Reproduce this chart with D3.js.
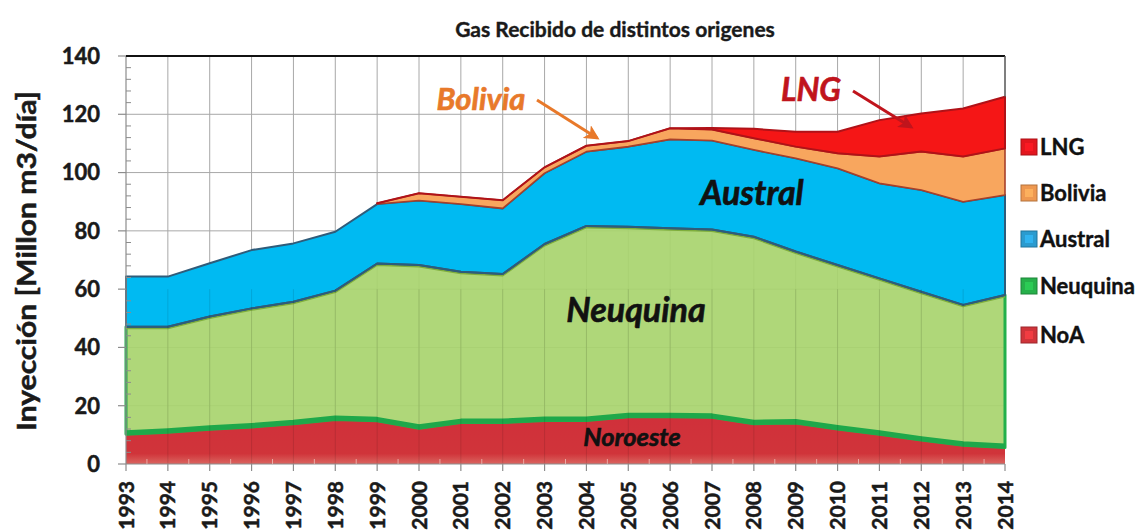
<!DOCTYPE html>
<html>
<head>
<meta charset="utf-8">
<script src="https://cdn.jsdelivr.net/npm/d3@7"></script>
<style>
  html, body { margin: 0; padding: 0; background: #fff; }
  svg { display: block; }
  text { font-family: Lato, "Open Sans", sans-serif; }
</style>
</head>
<body>
<svg id="chart" width="1147" height="532"></svg>
<script>
// ---- data ----
const years = [1993,1994,1995,1996,1997,1998,1999,2000,2001,2002,2003,2004,2005,2006,2007,2008,2009,2010,2011,2012,2013,2014];
const noa      = [10.2,10.9,11.9,12.7,13.8,15.3,14.8,12.3,14.2,14.2,14.9,14.9,16.2,16.2,16.0,13.8,14.1,12.0,10.2,8.2,6.4,5.7];
const neuquina = [36.9,36.2,38.7,40.7,41.9,44.2,54.0,56.0,51.8,51.0,60.6,66.8,65.2,64.7,64.5,64.2,58.8,56.3,53.5,50.9,48.2,52.3];
const austral  = [17.2,17.2,18.3,20.0,20.0,20.2,20.4,22.1,23.2,22.5,24.3,25.5,27.5,30.5,30.5,29.8,32.0,33.2,32.6,34.9,35.4,34.3];
const bolivia  = [null,null,null,null,null,null,0.3,2.5,2.5,2.8,2.0,2.0,1.9,3.8,3.8,4.0,4.0,5.1,9.2,13.2,15.5,16.0];
const lng      = [null,null,null,null,null,null,0,0,0,0,0,0,0,0,0.5,3.2,5.1,7.4,12.5,13.1,16.5,17.7];
const yTicks   = [0,20,40,60,80,100,120,140];
const seriesKeys   = ["NoA","Neuquina","Austral","Bolivia","LNG"];
const legendOrder  = ["LNG","Bolivia","Austral","Neuquina","NoA"];
const title = "Gas Recibido de distintos origenes";
const yTitle = "Inyección [Millon m3/día]";

// ---- layout ----
const W = 1147, H = 532;
const margin = {left: 126, right: 142, top: 56, bottom: 68};
const iw = W - margin.left - margin.right;
const ih = H - margin.top - margin.bottom;

const svg = d3.select("#chart");
const defs = svg.append("defs");

const x = d3.scaleLinear().domain([years[0], years[years.length-1]]).range([margin.left, margin.left + iw]);
const y = d3.scaleLinear().domain([0, 140]).range([margin.top + ih, margin.top]);

const style = {
  NoA:      {fill: "url(#gNoa)", stroke: "none", sw: 0, op: 1},
  Neuquina: {fill: "#a8d46e", stroke: "#22b04b", sw: 3, op: 0.92},
  Austral:  {fill: "#00baf2", stroke: "#2f5c7a", sw: 2, op: 1},
  Bolivia:  {fill: "#f8a65e", stroke: "#a8402a", sw: 1.6, op: 1},
  LNG:      {fill: "#f51616", stroke: "#b01218", sw: 2, op: 1}
};
const legendColor = {LNG: "#e3161e", Bolivia: "#ee9850", Austral: "#2b9bcf", Neuquina: "#26b04a", NoA: "#d0343a"};

const gNoa = defs.append("linearGradient").attr("id","gNoa").attr("x1",0).attr("y1",0).attr("x2",0).attr("y2",1);
gNoa.append("stop").attr("offset","0%").attr("stop-color","#d0303a");
gNoa.append("stop").attr("offset","78%").attr("stop-color","#d0343a");
gNoa.append("stop").attr("offset","100%").attr("stop-color","#da6560");

// ---- table ----
const table = years.map((yr, i) => ({
  year: yr, NoA: noa[i], Neuquina: neuquina[i], Austral: austral[i], Bolivia: bolivia[i], LNG: lng[i]
}));
const stack = d3.stack().keys(seriesKeys).value((d, k) => d[k] == null ? 0 : d[k]);
const stacked = stack(table);

// ---- grid ----
const grid = svg.append("g");
grid.selectAll("line.h").data(yTicks.filter(t => t > 0 && t < 140)).join("line")
  .attr("x1", margin.left).attr("x2", margin.left + iw)
  .attr("y1", d => y(d)).attr("y2", d => y(d))
  .attr("stroke", "#a8a8a8").attr("stroke-width", 1);
grid.selectAll("line.v").data(years.slice(1, -1)).join("line")
  .attr("x1", d => x(d)).attr("x2", d => x(d))
  .attr("y1", margin.top).attr("y2", margin.top + ih)
  .attr("stroke", "#a8a8a8").attr("stroke-width", 1);

// ---- areas ----
const area = d3.area()
  .defined(d => d.data[d.key] != null)
  .x(d => x(d.data.year)).y0(d => y(d[0])).y1(d => y(d[1]));

const areasG = svg.append("g");
stacked.forEach(s => {
  const pts = s.map(p => Object.assign(p, {key: s.key}));
  const st = style[s.key];
  areasG.append("path").datum(pts)
    .attr("d", area)
    .attr("fill", st.fill)
    .attr("fill-opacity", st.op)
    .attr("stroke", st.stroke).attr("stroke-width", st.sw)
    .attr("stroke-linejoin", "round");
  if (s.key === "Neuquina") {
    const lowLine = d3.line().x(d => x(d.data.year)).y(d => y(d[0]) - 1.5);
    areasG.append("path").datum(pts).attr("d", lowLine)
      .attr("fill", "none").attr("stroke", "#1ea84a").attr("stroke-width", 5).attr("stroke-linejoin", "round");
    const topLine = d3.line().x(d => x(d.data.year)).y(d => y(d[1]) + 1.5);
    areasG.append("path").datum(pts).attr("d", topLine)
      .attr("fill", "none").attr("stroke", "#7fae3c").attr("stroke-width", 2).attr("stroke-linejoin", "round");
  }
  if (s.key === "Austral") {
    const botLine = d3.line().x(d => x(d.data.year)).y(d => y(d[0]));
    areasG.append("path").datum(pts).attr("d", botLine)
      .attr("fill", "none").attr("stroke", "#2f5c7a").attr("stroke-width", 2).attr("stroke-linejoin", "round");
  }
});

// faint grid visible through lower areas
const grid2 = svg.append("g").attr("opacity", 0.10);
grid2.selectAll("line").data(years.slice(1, -1)).join("line")
  .attr("x1", d => x(d)).attr("x2", d => x(d))
  .attr("y1", y(60)).attr("y2", margin.top + ih)
  .attr("stroke", "#000").attr("stroke-width", 1);

// ---- axes ----
const axG = svg.append("g");
axG.append("line").attr("x1", margin.left).attr("x2", margin.left)
  .attr("y1", margin.top).attr("y2", margin.top + ih).attr("stroke", "#8c8c8c").attr("stroke-width", 1.2);
axG.selectAll("line.ymaj").data(yTicks).join("line")
  .attr("x1", margin.left - 8).attr("x2", margin.left)
  .attr("y1", d => y(d)).attr("y2", d => y(d)).attr("stroke", "#8c8c8c").attr("stroke-width", 1.2);
const yMinor = d3.range(0, 141, 4).filter(v => v % 20 !== 0);
axG.selectAll("line.ymin").data(yMinor).join("line")
  .attr("x1", margin.left).attr("x2", margin.left + 5)
  .attr("y1", d => y(d)).attr("y2", d => y(d)).attr("stroke", "#8c8c8c").attr("stroke-width", 1);
axG.selectAll("text.ytl").data(yTicks).join("text")
  .attr("x", margin.left - 26).attr("y", d => y(d)).attr("dy", "0.36em")
  .attr("text-anchor", "end").attr("font-size", 22).attr("font-weight", 700).attr("fill", "#1a1a1a")
  .attr("stroke", "#1a1a1a").attr("stroke-width", 0.5)
  .text(d => d);
axG.append("line").attr("x1", margin.left).attr("x2", margin.left + iw)
  .attr("y1", y(0)).attr("y2", y(0)).attr("stroke", "#8c8c8c").attr("stroke-width", 1);
axG.selectAll("line.xt").data(years).join("line")
  .attr("x1", d => x(d)).attr("x2", d => x(d))
  .attr("y1", y(0)).attr("y2", y(0) + 7).attr("stroke", "#8c8c8c").attr("stroke-width", 1.2);
axG.selectAll("line.xm").data(years.slice(0, -1)).join("line")
  .attr("x1", d => x(d + 0.5)).attr("x2", d => x(d + 0.5))
  .attr("y1", y(0) - 5).attr("y2", y(0)).attr("stroke", "#e9a9a4").attr("stroke-width", 1);
axG.selectAll("text.xtl").data(years).join("text")
  .attr("transform", d => `translate(${x(d) + 7.5},${y(0) + 17}) rotate(-90)`)
  .attr("text-anchor", "end").attr("font-size", 21).attr("font-weight", 700).attr("fill", "#1a1a1a")
  .attr("stroke", "#1a1a1a").attr("stroke-width", 0.5)
  .text(d => d);

// frame: top and right
svg.append("line").attr("x1", margin.left).attr("x2", margin.left + iw)
  .attr("y1", margin.top).attr("y2", margin.top).attr("stroke", "#111").attr("stroke-width", 2.2);
svg.append("line").attr("x1", margin.left + iw).attr("x2", margin.left + iw)
  .attr("y1", margin.top).attr("y2", y(126)).attr("stroke", "#555").attr("stroke-width", 1.5);

// ---- titles ----
svg.append("text").attr("x", 615).attr("y", 37).attr("text-anchor", "middle")
  .attr("font-size", 21).attr("font-weight", 700).attr("fill", "#1a1a1a")
  .attr("stroke", "#1a1a1a").attr("stroke-width", 0.4).text(title);
svg.append("text").attr("transform", `translate(36,261) rotate(-90)`)
  .attr("text-anchor", "middle").attr("font-size", 26).attr("font-weight", 700).attr("fill", "#1a1a1a")
  .attr("stroke", "#1a1a1a").attr("stroke-width", 0.5)
  .attr("textLength", 340).attr("lengthAdjust", "spacingAndGlyphs")
  .text(yTitle);

// ---- annotations ----
defs.append("marker").attr("id", "arrO").attr("viewBox", "0 0 10 10").attr("refX", 8).attr("refY", 5)
  .attr("markerWidth", 5).attr("markerHeight", 5).attr("orient", "auto")
  .append("path").attr("d", "M0,0 L10,5 L0,10 L2.5,5 Z").attr("fill", "#e8792a");
defs.append("marker").attr("id", "arrR").attr("viewBox", "0 0 10 10").attr("refX", 8).attr("refY", 5)
  .attr("markerWidth", 5).attr("markerHeight", 5).attr("orient", "auto")
  .append("path").attr("d", "M0,0 L10,5 L0,10 L2.5,5 Z").attr("fill", "#c0141c");

svg.append("line").attr("x1", 537).attr("y1", 100).attr("x2", 597).attr("y2", 138)
  .attr("stroke", "#e8792a").attr("stroke-width", 3).attr("marker-end", "url(#arrO)");
svg.append("line").attr("x1", 853).attr("y1", 91).attr("x2", 911).attr("y2", 127)
  .attr("stroke", "#c0141c").attr("stroke-width", 3).attr("marker-end", "url(#arrR)");

const ann = [
  {t: "Bolivia",  x: 481, y: 110, s: 31, c: "#e8792a"},
  {t: "LNG",      x: 811, y: 101, s: 32, c: "#c0141c"},
  {t: "Austral",  x: 752, y: 205, s: 34, c: "#111"},
  {t: "Neuquina", x: 636, y: 322, s: 34, c: "#111"},
  {t: "Noroeste", x: 632, y: 446, s: 25.5, c: "#111"}
];
svg.selectAll("text.ann").data(ann).join("text")
  .attr("x", d => d.x).attr("y", d => d.y).attr("text-anchor", "middle")
  .attr("font-size", d => d.s).attr("font-weight", 700).attr("font-style", "italic")
  .attr("fill", d => d.c).attr("stroke", d => d.c).attr("stroke-width", 0.6).text(d => d.t);

// ---- legend ----
const lg = svg.append("g");
const legY = {LNG: 147, Bolivia: 193, Austral: 239, Neuquina: 286, NoA: 335};
legendOrder.forEach(k => {
  const cy = legY[k];
  const c = d3.color(legendColor[k]);
  lg.append("rect").attr("x", 1021).attr("y", cy - 8).attr("width", 16).attr("height", 16)
    .attr("fill", c.formatHex()).attr("stroke", c.darker(0.8).formatHex()).attr("stroke-width", 1);
  lg.append("rect").attr("x", 1025).attr("y", cy - 4).attr("width", 8).attr("height", 8)
    .attr("fill", c.brighter(0.5).formatHex()).attr("opacity", 0.8);
  lg.append("text").attr("x", 1040).attr("y", cy).attr("dy", "0.36em")
    .attr("font-size", 22).attr("font-weight", 700).attr("fill", "#111")
    .attr("stroke", "#111").attr("stroke-width", 0.4).text(k);
});
</script>
</body>
</html>
